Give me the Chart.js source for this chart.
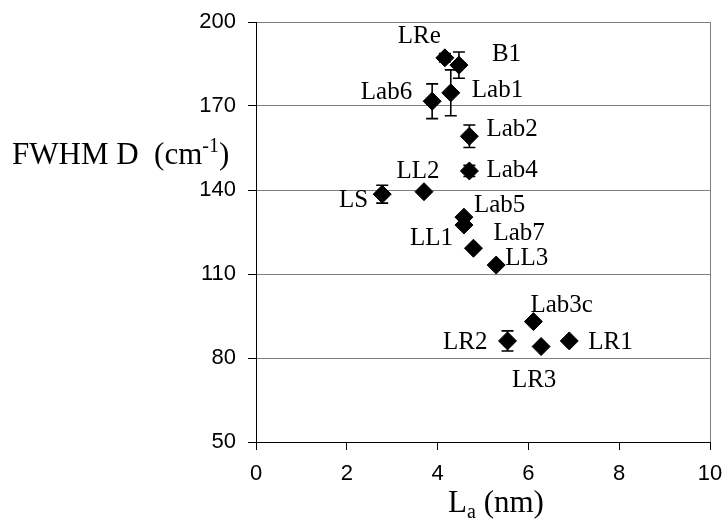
<!DOCTYPE html>
<html>
<head>
<meta charset="utf-8">
<script src="https://cdn.jsdelivr.net/npm/chart.js@4.4.0/dist/chart.umd.min.js"></script>
<style>
  html, body { margin: 0; padding: 0; background: #fff; }
  #wrap { width: 725px; height: 520px; }
</style>
</head>
<body>
<div id="wrap"><canvas id="myChart" width="725" height="520"></canvas></div>
<script>
// sample names, La (nm), FWHM D (cm-1) and its error bar half-length
var names = ["LRe", "B1", "Lab6", "Lab1", "Lab2", "Lab4", "LL2", "LS", "Lab5", "LL1", "Lab7", "LL3", "Lab3c", "LR2", "LR3", "LR1"];
var la = [4.16, 4.47, 3.88, 4.29, 4.70, 4.70, 3.70, 2.78, 4.58, 4.58, 4.79, 5.29, 6.11, 5.54, 6.28, 6.90];
var fwhm = [187.2, 184.6, 171.7, 174.7, 159.2, 146.8, 139.4, 138.5, 130.3, 127.5, 119.2, 113.2, 93.0, 86.1, 84.1, 86.1];
var err = [1.5, 4.7, 6.2, 8.2, 4.0, 2.0, 0, 3.2, 0, 0, 0, 0, 0, 3.6, 0, 0];
var xTicks = [0, 2, 4, 6, 8, 10];
var yTicks = [50, 80, 110, 140, 170, 200];

// where each name sits next to its marker: [dx, dy, align]
var labelPos = {
  "LRe": [-4, -23, "right"], "B1": [33, -12, "left"], "Lab6": [-20, -10, "right"],
  "Lab1": [21, -4, "left"], "Lab2": [17, -8, "left"], "Lab4": [17, -2, "left"],
  "LL2": [-6, -22, "center"], "LS": [-14, 5, "right"], "Lab5": [10, -13, "left"],
  "LL1": [-11, 12, "right"], "Lab7": [20, -16, "left"], "LL3": [9, -8, "left"],
  "Lab3c": [-3, -18, "left"], "LR2": [-20, 0, "right"], "LR1": [19, 0, "left"],
  "LR3": [-7, 32, "center"]
};

var points = la.map(function (v, i) { return { x: v, y: fwhm[i] }; });

var extras = {
  id: "extras",
  beforeDatasetsDraw: function (chart) {
    var c = chart.ctx, xs = chart.scales.x, ys = chart.scales.y, a = chart.chartArea;
    c.save();
    // right frame
    c.strokeStyle = "#808080";
    c.lineWidth = 1;
    c.beginPath();
    c.moveTo(a.right + 0.5, a.top);
    c.lineTo(a.right + 0.5, a.bottom);
    c.stroke();
    // error bars
    c.strokeStyle = "#000";
    c.lineWidth = 1.6;
    err.forEach(function (e, i) {
      if (!e) return;
      var px = xs.getPixelForValue(la[i]);
      var y1 = ys.getPixelForValue(fwhm[i] + e);
      var y2 = ys.getPixelForValue(fwhm[i] - e);
      c.beginPath();
      c.moveTo(px, y1); c.lineTo(px, y2);
      c.moveTo(px - 6, y1); c.lineTo(px + 6, y1);
      c.moveTo(px - 6, y2); c.lineTo(px + 6, y2);
      c.stroke();
    });
    c.restore();
  },
  afterDatasetsDraw: function (chart) {
    var c = chart.ctx, xs = chart.scales.x, ys = chart.scales.y;
    c.save();
    c.fillStyle = "#000";
    c.font = "25px 'Liberation Serif'";
    c.textBaseline = "alphabetic";
    names.forEach(function (n, i) {
      var p = labelPos[n];
      c.textAlign = p[2];
      c.fillText(n, xs.getPixelForValue(la[i]) + p[0], ys.getPixelForValue(fwhm[i]) + p[1] + 8);
    });

    // y title with superscript
    c.textAlign = "left";
    var x = 12, base = 164;
    c.font = "31px 'Liberation Serif'";
    c.fillText("FWHM D  (cm", x, base);
    x += c.measureText("FWHM D  (cm").width;
    c.font = "20px 'Liberation Serif'";
    c.fillText("-1", x, base - 12);
    x += c.measureText("-1").width;
    c.font = "31px 'Liberation Serif'";
    c.fillText(")", x, base);

    // x title with subscript
    c.font = "31px 'Liberation Serif'";
    var w1 = c.measureText("L").width, w3 = c.measureText(" (nm)").width;
    c.font = "20px 'Liberation Serif'";
    var w2 = c.measureText("a").width;
    var cx = (chart.chartArea.left + chart.chartArea.right) / 2 + 13;
    x = cx - (w1 + w2 + w3) / 2;
    base = 512;
    c.font = "31px 'Liberation Serif'";
    c.fillText("L", x, base);
    c.font = "20px 'Liberation Serif'";
    c.fillText("a", x + w1, base + 6);
    c.font = "31px 'Liberation Serif'";
    c.fillText(" (nm)", x + w1 + w2, base);
    c.restore();
  }
};

var ctx = document.getElementById("myChart").getContext("2d");
var myChart = new Chart(ctx, {
  type: "scatter",
  data: {
    datasets: [{
      data: points,
      pointStyle: "rectRot",
      pointRadius: 9,
      backgroundColor: "#000",
      borderColor: "#000",
      borderWidth: 1
    }]
  },
  options: {
    responsive: false,
    animation: false,
    layout: { padding: { top: 22, right: 15, left: 0, bottom: 0 } },
    plugins: { legend: { display: false }, tooltip: { enabled: false } },
    scales: {
      x: {
        min: 0, max: 10,
        afterBuildTicks: function (s) { s.ticks = xTicks.map(function (v) { return { value: v }; }); },
        afterFit: function (s) { s.height = 78; s.paddingLeft = 0; s.paddingRight = 0; },
        grid: { drawOnChartArea: false, tickLength: 8, tickColor: "#000" },
        border: { color: "#000", width: 1 },
        ticks: { color: "#000", padding: 11, font: { family: "'Liberation Sans'", size: 22 }, maxRotation: 0 }
      },
      y: {
        min: 50, max: 200,
        afterBuildTicks: function (s) { s.ticks = yTicks.map(function (v) { return { value: v }; }); },
        afterFit: function (s) { s.width = 256; s.paddingTop = 0; s.paddingBottom = 0; },
        grid: { color: "#808080", tickLength: 8, tickColor: "#000" },
        border: { color: "#000", width: 1 },
        ticks: { color: "#000", padding: 12, font: { family: "'Liberation Sans'", size: 22 } }
      }
    }
  },
  plugins: [extras]
});
</script>
</body>
</html>
